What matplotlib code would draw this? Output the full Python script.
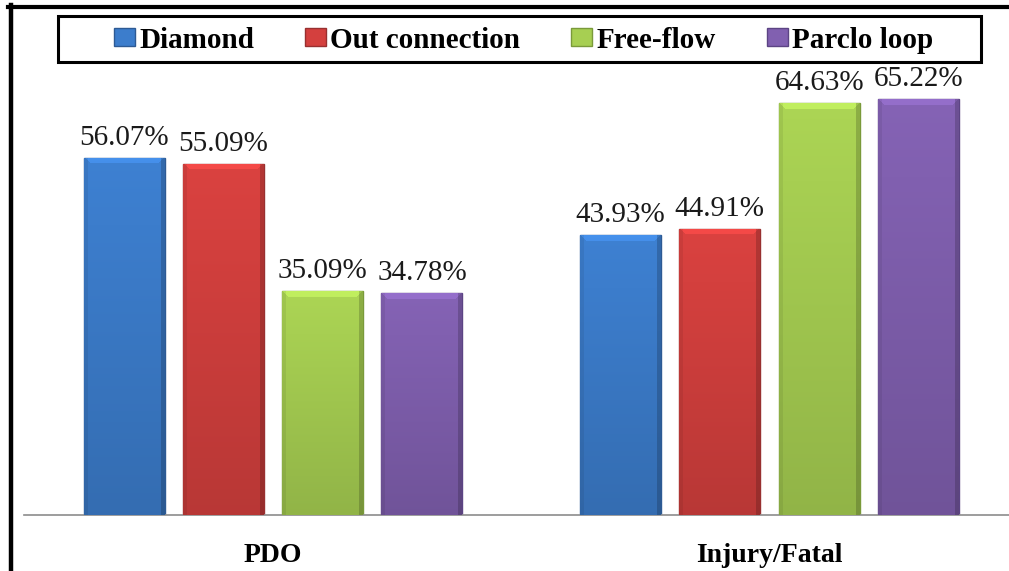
import matplotlib
matplotlib.use("Agg")
import matplotlib.pyplot as plt
import numpy as np
from matplotlib.patches import Patch, Rectangle
from matplotlib.lines import Line2D
from matplotlib.colors import to_rgb

#------------------------------------------------------------------------------
# Data

categories = ["PDO", "Injury/Fatal"]
series = ["Diamond", "Out connection", "Free-flow", "Parclo loop"]
diamond = [56.07, 43.93]
out_connection = [55.09, 44.91]
free_flow = [35.09, 64.63]
parclo_loop = [34.78, 65.22]
values = [diamond, out_connection, free_flow, parclo_loop]

colors = ["#3c7dcc", "#d4403e", "#a7cf52", "#8160b0"]
edges = ["#2d5a94", "#983030", "#7a9a3a", "#5c4484"]

#------------------------------------------------------------------------------
# Figure

W, H = 1009, 571
fig = plt.figure(figsize=(W / 100, H / 100), dpi=100)
fig.patch.set_facecolor("white")

ax = fig.add_axes([24 / W, 1 - 515 / H, 1 - 24 / W, 446 / H])

x = np.arange(len(categories))
step = 0.2
width = 0.163
serif = ["Liberation Serif", "DejaVu Serif"]


def shade(bar, color):
    # soft bevel shading drawn inside the bar
    x0, w, h = bar.get_x(), bar.get_width(), bar.get_height()
    rows, cols = max(int(h * 6.37), 2), 81
    r = np.arange(rows)[:, None]
    c = np.arange(cols)[None, :]
    f = 1.03 - 0.16 * (r / rows) + 0 * c
    f = f * np.where(c < 4, 0.93, 1.0)
    f = f * np.where(c > cols - 5, 0.82, 1.0)
    top = (r < 6) & (c > r) & (c < cols - 1 - r)
    f = np.where(top, f * 1.12, f)
    img = np.clip(np.array(to_rgb(color))[None, None, :] * f[:, :, None], 0, 1)
    im = ax.imshow(img, extent=(x0, x0 + w, 0, h), aspect="auto",
                   interpolation="bilinear", zorder=3)
    im.set_clip_path(bar)


for i, (name, vals) in enumerate(zip(series, values)):
    bars = ax.bar(x + (i - 1.5) * step, vals, width, color=colors[i],
                  edgecolor=edges[i], linewidth=1.0, zorder=2, label=name)
    for b, v in zip(bars, vals):
        shade(b, colors[i])
        ax.text(b.get_x() + b.get_width() / 2, v + 1.1, f"{v:.2f}%",
                ha="center", va="bottom", fontsize=21, family=serif,
                color="#1a1a1a", zorder=4)

ax.set_xlim(-0.5015, 1.4824)
ax.set_ylim(0, 70)
for s in ["top", "right", "left"]:
    ax.spines[s].set_visible(False)
ax.spines["bottom"].set_color("#8c8c8c")
ax.spines["bottom"].set_linewidth(1.2)
ax.set_yticks([])
ax.set_xticks(x)
ax.set_xticklabels(categories, fontsize=20, fontweight="bold", family=serif)
ax.tick_params(axis="x", length=0, pad=20)

# legend
handles = [Patch(facecolor=c, edgecolor=e, linewidth=1) for c, e in zip(colors, edges)]
fig.legend(handles, series, loc="center", bbox_to_anchor=(523.5 / W, 1 - 40 / H),
           ncol=4, frameon=False, handlelength=0.72, handleheight=0.6,
           handletextpad=0.15, columnspacing=1.75,
           prop={"family": serif, "weight": "bold", "size": 21})
fig.add_artist(Rectangle((58 / W, 1 - 62 / H), 923 / W, 46 / H,
                         transform=fig.transFigure, fill=False,
                         edgecolor="black", linewidth=2.2))

# outer frame lines
fig.add_artist(Line2D([8 / W, 1], [1 - 6.5 / H] * 2, transform=fig.transFigure,
                      color="black", linewidth=3))
fig.add_artist(Line2D([10.5 / W] * 2, [0, 1 - 5 / H], transform=fig.transFigure,
                      color="black", linewidth=3.2))

fig.savefig("out.png", dpi=100)
